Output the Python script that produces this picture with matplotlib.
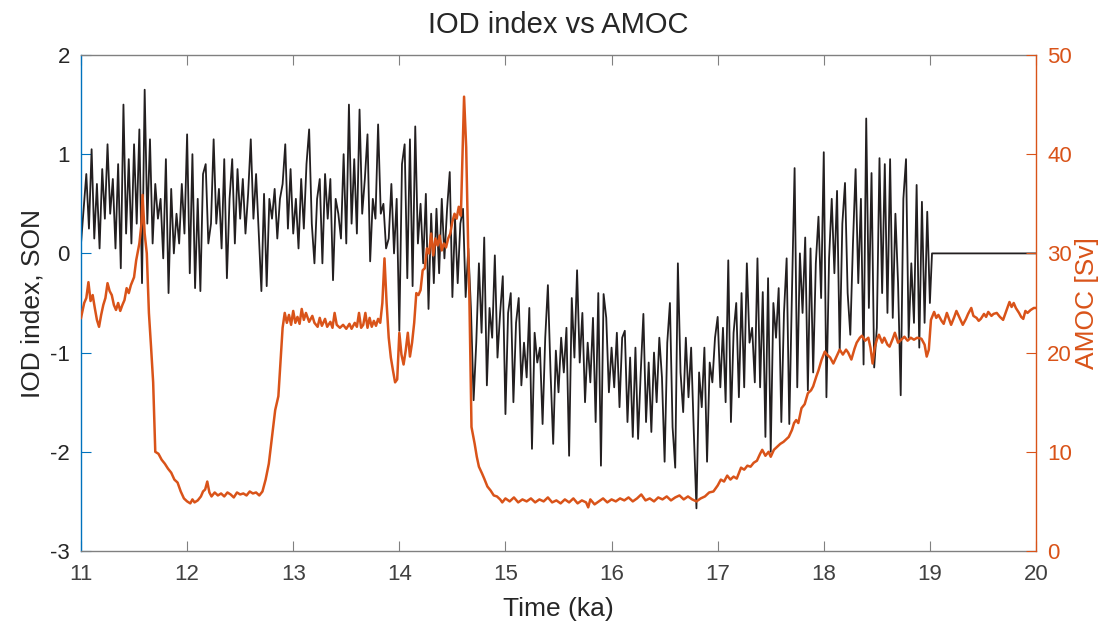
import numpy as np
import matplotlib
matplotlib.use("Agg")
import matplotlib.pyplot as plt

plt.rcParams['font.family'] = ['Liberation Sans', 'DejaVu Sans']
plt.rcParams['axes.unicode_minus'] = False

# ---------------- data ----------------
# IOD index (SON), evenly spaced from 11.0 to 19.0 ka
iod_start, iod_end = 11.0, 19.0
iod = [
    # 11.0 - 12.0
    0.10, 0.45, 0.80, 0.25, 1.05, 0.15, 0.70, 0.05, 0.85, 0.35,
    1.10, 0.40, 0.75, 0.05, 0.90, -0.15, 1.50, 0.20, 0.95, 0.10,
    1.10, 0.30, 1.25, -0.30, 1.65, 0.30, 1.15, 0.10, 0.70, 0.35,
    0.55, -0.05, 0.95, -0.40, 0.65, 0.00, 0.40, 0.10, 0.70, 0.20,
    # 12.0 - 13.0
    1.20, -0.20, 1.00, -0.35, 0.55, -0.38, 0.80, 0.90, 0.10, 0.30,
    1.15, 0.30, 0.65, 0.05, 0.95, -0.25, 0.55, 0.95, 0.10, 0.85,
    0.35, 0.75, 0.20, 0.60, 1.15, 0.35, 0.80, 0.20, -0.38, 0.60,
    -0.33, 0.55, 0.35, 0.65, 0.15, 0.55, 0.70, 1.10, 0.25, 0.85,
    # 13.0 - 14.0
    0.20, 0.55, 0.05, 0.75, 0.25, 0.90, 1.25, 0.30, -0.10, 0.55,
    0.75, -0.10, 0.80, 0.35, 0.75, -0.27, 0.55, 0.40, 0.15, 1.00,
    0.10, 1.50, 0.30, 0.95, 0.20, 1.45, 0.40, 0.75, 1.20, -0.08,
    0.55, 0.35, 1.30, 0.40, 0.50, 0.05, 0.15, 0.70, 0.00, 0.55,
    # 14.0 - 15.0
    -0.78, 0.90, 1.10, -0.25, 1.15, -0.33, 1.28, 0.10, 0.50, -0.10,
    0.60, -0.56, 0.40, -0.30, 0.45, -0.20, 0.55, -0.05, 0.45, 0.82,
    -0.44, 0.35, -0.30, 0.30, 0.45, -0.44, 0.05, -0.56, -1.48, -0.90,
    -0.10, -0.80, 0.16, -1.33, -0.55, -0.85, -0.02, -1.05, -0.60, -0.23,
    # 15.0 - 16.0
    -1.62, -0.60, -0.40, -1.50, -0.70, -0.45, -1.33, -0.90, -1.25, -0.55,
    -1.97, -0.80, -1.10, -0.95, -1.72, -0.85, -0.32, -1.20, -1.92, -0.98,
    -1.40, -0.85, -1.20, -0.75, -2.04, -0.45, -1.05, -0.17, -1.10, -0.60,
    -1.50, -0.90, -1.30, -0.65, -1.70, -0.40, -2.14, -0.41, -0.65, -1.40,
    # 16.0 - 17.0
    -0.95, -1.35, -0.80, -1.55, -0.85, -0.78, -1.70, -1.05, -1.85, -0.95,
    -1.87, -1.20, -0.61, -1.70, -1.10, -1.80, -1.00, -1.50, -0.85, -1.25,
    -2.10, -0.90, -0.50, -1.75, -2.16, -0.10, -1.20, -1.60, -0.85, -1.45,
    -0.95, -1.80, -2.57, -1.20, -1.55, -0.95, -2.10, -1.10, -1.30, -0.85,
    # 17.0 - 17.85
    -0.64, -1.35, -0.75, -1.50, -0.07, -1.70, -0.80, -0.50, -1.45, -0.40,
    -1.35, -0.10, -0.90, -0.75, -1.30, -0.05, -1.35, -0.39, -1.85, -0.25,
    -2.00, -0.50, -0.85, -0.35, -1.70, -0.60, -0.05, -1.72, -0.40, 0.86,
    -1.35, 0.00, -0.60, 0.16, -1.38,
    # 17.875 - 19.0
    0.05, -1.20, -0.10, 0.37, -0.45, 1.02, -1.45, -0.05, 0.55, -0.20,
    0.63, -0.98, 0.30, 0.71, -0.40, -0.82, 0.10, 0.85, -0.30, 0.55,
    -1.12, 1.36, -0.55, 0.81, -1.15, -0.75, 0.96, -0.40, 0.90, -0.60,
    0.95, -0.65, 0.40, -0.30, -1.43, 0.55, 0.95, -0.85, -0.10, -0.70,
    0.69, -0.95, 0.52, -0.70, 0.42, -0.50,
]
# constant tail after the series ends
iod_tail_t = [19.02, 20.0]
iod_tail_v = [0.0, 0.0]

# AMOC strength [Sv]
amoc_t = [
    11.00, 11.03, 11.05, 11.07, 11.09, 11.11, 11.13, 11.15, 11.17, 11.19,
    11.21, 11.23, 11.25, 11.27, 11.29, 11.31, 11.33, 11.35, 11.37, 11.39,
    11.41, 11.43, 11.45, 11.47, 11.50, 11.52, 11.55, 11.57, 11.58, 11.60,
    11.62, 11.64, 11.66, 11.68, 11.70, 11.73, 11.76, 11.79, 11.82, 11.85,
    11.88, 11.91, 11.94, 11.97, 12.00, 12.03, 12.05, 12.07, 12.10, 12.13,
    12.15, 12.17, 12.19, 12.21, 12.23, 12.26, 12.29, 12.32, 12.35, 12.38,
    12.41, 12.44, 12.47, 12.50, 12.53, 12.56, 12.59, 12.62, 12.65, 12.68,
    12.71, 12.74, 12.77, 12.80, 12.83, 12.86, 12.88, 12.90, 12.92, 12.94,
    12.96, 12.98, 13.00, 13.02, 13.04, 13.06, 13.08, 13.10, 13.12, 13.15,
    13.18, 13.20, 13.23, 13.25, 13.27, 13.30, 13.32, 13.35, 13.37, 13.39,
    13.41, 13.44, 13.47, 13.50, 13.53, 13.55, 13.58, 13.60, 13.62, 13.64,
    13.66, 13.68, 13.70, 13.72, 13.74, 13.76, 13.78, 13.80, 13.82, 13.84,
    13.86, 13.88, 13.90, 13.92, 13.94, 13.96, 13.98, 14.00, 14.02, 14.04,
    14.06, 14.08, 14.10, 14.12, 14.14, 14.16, 14.18, 14.20, 14.22, 14.24,
    14.26, 14.28, 14.30, 14.32, 14.34, 14.36, 14.38, 14.40, 14.42, 14.44,
    14.46, 14.48, 14.50, 14.52, 14.54, 14.56, 14.58, 14.60, 14.61, 14.63,
    14.65, 14.66, 14.68, 14.71, 14.73, 14.75, 14.78, 14.80, 14.83, 14.86,
    14.89, 14.92, 14.95, 14.97,
    15.00, 15.04, 15.08, 15.12, 15.16, 15.20, 15.24, 15.28, 15.32, 15.36,
    15.40, 15.44, 15.48, 15.52, 15.56, 15.60, 15.64, 15.68, 15.72, 15.76,
    15.78, 15.80, 15.84, 15.88, 15.92, 15.96, 16.00, 16.04, 16.08, 16.12,
    16.16, 16.20, 16.24, 16.28, 16.32, 16.36, 16.40, 16.44, 16.48, 16.52,
    16.56, 16.60, 16.64, 16.68, 16.72, 16.76, 16.80, 16.84, 16.88, 16.92,
    16.96,
    17.00, 17.03, 17.06, 17.09, 17.12, 17.15, 17.18, 17.22, 17.25, 17.28,
    17.31, 17.34, 17.37, 17.40, 17.42, 17.45, 17.48, 17.50, 17.53, 17.56,
    17.59, 17.62, 17.65, 17.67, 17.70, 17.72, 17.74, 17.76, 17.79, 17.82,
    17.85, 17.88, 17.90, 17.93, 17.95, 17.98, 18.01, 18.03, 18.06, 18.09,
    18.12, 18.15, 18.18, 18.21, 18.23, 18.26, 18.29, 18.31, 18.34, 18.36,
    18.39, 18.42, 18.44, 18.46, 18.48, 18.50, 18.52, 18.55, 18.57, 18.60,
    18.62, 18.65, 18.67, 18.70, 18.73, 18.76, 18.79, 18.82, 18.85, 18.88,
    18.92, 18.95, 18.97, 18.99, 19.01, 19.04, 19.06, 19.08, 19.11, 19.13,
    19.16, 19.18, 19.20, 19.23, 19.25, 19.28, 19.31, 19.34, 19.36, 19.39,
    19.41, 19.44, 19.46, 19.48, 19.51, 19.53, 19.55, 19.58, 19.60, 19.63,
    19.66, 19.69, 19.72, 19.75, 19.77, 19.79, 19.81, 19.84, 19.86, 19.88,
    19.90, 19.92, 19.95, 19.98, 20.00,
]
amoc = [
    23.5, 25.0, 25.5, 27.1, 25.2, 25.8, 24.5, 23.3, 22.6, 23.8,
    24.8, 25.5, 27.0, 26.2, 25.8, 24.8, 24.3, 25.0, 24.2, 24.8,
    25.3, 26.5, 26.0, 26.8, 27.6, 29.3, 31.0, 33.0, 35.9, 32.0,
    30.0, 24.0, 20.6, 17.0, 10.0, 9.8, 9.2, 8.8, 8.3, 7.9,
    7.2, 6.9, 6.0, 5.3, 5.0, 4.8, 5.2, 4.9, 5.1, 5.5,
    6.0, 6.2, 7.0, 5.9, 5.5, 5.9, 5.6, 5.8, 5.5, 5.9,
    5.7, 5.4, 5.9, 5.7, 5.8, 5.6, 6.0, 5.8, 5.9, 5.6,
    6.0, 7.2, 8.8, 11.5, 14.2, 15.6, 19.0, 22.5, 24.0, 23.0,
    23.8, 22.8, 24.2, 23.0, 23.6, 22.9, 24.4, 23.3, 24.0, 23.1,
    23.7, 23.0, 22.6, 23.5, 22.7, 23.4, 22.6, 23.1, 22.5, 24.0,
    22.8, 22.5, 22.8, 22.4, 22.9, 22.4, 23.0, 22.6, 24.0, 22.5,
    22.8, 24.0, 22.5, 23.5, 22.6, 23.2, 22.7, 23.4, 23.0, 25.0,
    29.5, 25.0, 21.5, 19.5, 18.2, 17.0, 17.3, 22.0, 19.8, 18.8,
    20.2, 22.0, 19.6, 21.0, 23.0, 26.0, 25.8, 26.3, 28.3, 28.5,
    30.5, 30.0, 32.0, 29.8, 31.5, 30.8, 31.8, 30.3, 31.0, 30.6,
    31.5, 32.0, 33.2, 34.0, 33.5, 34.7, 33.8, 42.0, 45.8, 40.7,
    30.0, 25.6, 12.5, 10.8, 9.5, 8.5, 7.8, 7.3, 6.5, 6.1,
    5.6, 5.5, 5.2, 4.9,
    5.3, 5.0, 5.4, 4.9, 5.2, 5.0, 5.3, 4.9, 5.2, 5.0,
    5.4, 4.9, 5.1, 4.8, 5.2, 4.9, 5.3, 4.8, 5.1, 4.9,
    4.4, 5.2, 4.7, 5.0, 5.3, 4.9, 5.2, 5.0, 5.3, 5.1,
    5.4, 5.0, 5.3, 5.7, 5.1, 5.3, 5.0, 5.4, 5.2, 5.5,
    5.1, 5.4, 5.6, 5.2, 5.5, 5.2, 5.0, 5.3, 5.5, 5.9,
    6.0,
    6.6, 7.2, 7.0, 7.6, 7.2, 7.5, 7.3, 8.4, 8.2, 8.6,
    8.5, 8.9, 9.1, 9.8, 10.2, 9.6, 10.0, 9.5, 10.2, 10.5,
    10.8, 11.0, 11.3, 11.5, 12.2, 12.9, 13.2, 12.9, 14.4, 14.8,
    15.9, 16.2, 16.6, 17.6, 18.2, 19.3, 20.1, 19.8, 19.5, 18.9,
    19.6, 20.3, 19.8, 20.3, 20.0, 19.3, 20.4, 21.0, 21.5, 21.7,
    21.2, 21.5, 20.5, 18.9, 20.5, 21.3, 21.8, 21.0, 21.5, 20.8,
    20.6, 21.4, 22.0, 21.0, 21.3, 21.6, 21.2, 21.5, 21.3, 21.5,
    21.4, 20.8, 19.6, 20.3, 23.3, 24.1, 23.5, 23.8, 23.2, 22.9,
    24.0, 23.4, 22.8, 23.6, 24.2, 23.5, 22.8, 23.4, 23.9, 24.5,
    23.7, 23.5, 23.2, 23.4, 23.9, 23.6, 24.1, 23.7, 23.9, 24.0,
    23.6, 23.3, 24.2, 25.1, 24.6, 25.0, 24.5, 24.0, 23.6, 23.4,
    24.2, 24.0, 24.3, 24.5, 24.5,
]

x_ticks = [11, 12, 13, 14, 15, 16, 17, 18, 19, 20]
left_ticks = [-3, -2, -1, 0, 1, 2]
right_ticks = [0, 10, 20, 30, 40, 50]

# ---------------- styling ----------------
BLUE = '#0072BD'
ORANGE = '#D95319'
BLACK = '#231F20'
GRAY = '#808080'
TXT = '#262626'

W, H = 1112, 628
fig = plt.figure(figsize=(W / 100, H / 100), dpi=100)
ax = fig.add_axes([81 / W, 1 - 551 / H, (1036 - 81) / W, (551 - 55) / H])
ax2 = ax.twinx()

iod_t = np.linspace(iod_start, iod_end, len(iod))
t_all = np.concatenate([iod_t, iod_tail_t])
v_all = np.concatenate([iod, iod_tail_v])
ax.plot(t_all, v_all, color=BLACK, lw=1.3, zorder=2)
ax2.plot(amoc_t, amoc, color=ORANGE, lw=1.8, zorder=3)

ax.set_xlim(11, 20)
ax.set_ylim(-3, 2)
ax2.set_ylim(0, 50)
ax.set_xticks(x_ticks)
ax.set_yticks(left_ticks)
ax2.set_yticks(right_ticks)

ax.tick_params(axis='x', direction='in', length=7, width=0.8, color=GRAY,
               labelsize=16, labelcolor='#404040', top=True, pad=9)
ax.tick_params(axis='y', direction='in', length=7, width=0.8, color=BLUE,
               labelsize=16, labelcolor=TXT, pad=8)
ax2.tick_params(axis='y', direction='in', length=7, width=0.8, color=ORANGE,
                labelsize=16, labelcolor=ORANGE, pad=8)

for s in ['top', 'bottom']:
    ax.spines[s].set_color(GRAY)
    ax.spines[s].set_linewidth(1.0)
    ax2.spines[s].set_visible(False)
ax.spines['left'].set_color(BLUE)
ax.spines['left'].set_linewidth(1.0)
ax.spines['right'].set_visible(False)
ax2.spines['left'].set_visible(False)
ax2.spines['right'].set_color(ORANGE)
ax2.spines['right'].set_linewidth(1.0)

ax.set_title('IOD index vs AMOC', fontsize=21, color=TXT, pad=16)
ax.set_xlabel('Time (ka)', fontsize=19, color=TXT, labelpad=9)
ax.set_ylabel('IOD index, SON', fontsize=19, color=TXT, labelpad=4)
ax2.set_ylabel('AMOC [Sv]', fontsize=19, color=ORANGE, labelpad=2)

fig.savefig('out.png', dpi=100)
